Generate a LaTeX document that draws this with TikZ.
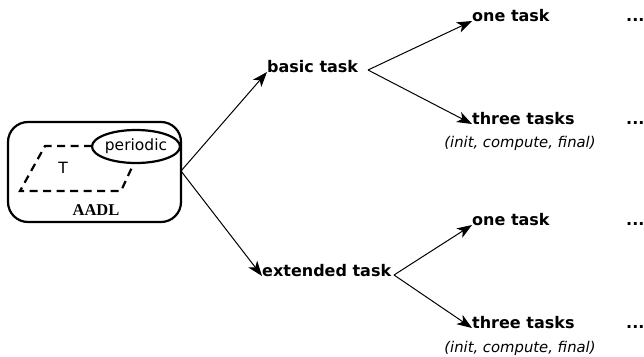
\documentclass[tikz,border=0pt]{standalone}
\usepackage{fontspec}
\setmainfont{DejaVu Sans}
\newfontfamily\serifbold{Liberation Serif}
\usetikzlibrary{arrows.meta,shapes.geometric}
\begin{document}
\begin{tikzpicture}[x=1pt,y=-1pt,
  lbl/.style={font=\fontsize{16}{18}\selectfont\bfseries, anchor=base west, inner sep=0pt},
  note/.style={font=\fontsize{14.8}{17}\selectfont\itshape, inner sep=0pt},
  arr/.style={line width=1pt, -{Stealth[length=15pt,width=11pt,inset=4pt]}},
  thick line/.style={line width=2.2pt}]
\useasboundingbox (0,0) rectangle (644,356);

% AADL component box
\draw[thick line, rounded corners=20pt] (8,122) rectangle (181,222);
\draw[thick line, dash pattern=on 8pt off 5.5pt]
  (92,146) -- (45,146) -- (20,191) -- (121,191) -- (133,165);
\node[draw, ellipse, thick line, minimum width=88pt, minimum height=33pt, inner sep=0pt,
  font=\fontsize{15.5}{18}\selectfont] (per) at (136,146.5) {periodic};
\node[font=\fontsize{15.5}{18}\selectfont] (T) at (63,168) {T};
\node[font=\serifbold\fontsize{16.5}{19}\selectfont\bfseries] (aadl) at (96,210) {AADL};
\coordinate (src) at (181,171);

% first level
\node[lbl] (basic) at (267,72) {basic task};
\node[lbl] (ext) at (262,276) {extended task};
\coordinate (bsplit) at (368,70);
\coordinate (esplit) at (394,275);

% second level
\node[lbl] (one1) at (472,21) {one task};
\node[lbl] (three1) at (472,124) {three tasks};
\node[note] (sub1) at (520,143) {(init, compute, final)};
\node[lbl] (dots1) at (626,21) {...};
\node[lbl] (dots2) at (626,124) {...};

\node[lbl] (one2) at (472,225) {one task};
\node[lbl] (three2) at (472,328) {three tasks};
\node[note] (sub2) at (520,348) {(init, compute, final)};
\node[lbl] (dots3) at (626,225) {...};
\node[lbl] (dots4) at (626,328) {...};

% connectors
\draw[arr] (src) -- (basic.base west);
\draw[arr] (src) -- (ext.base west);
\draw[arr] (bsplit) -- (one1.base west);
\draw[arr] (bsplit) -- (three1.base west);
\draw[arr] (esplit) -- (one2.base west);
\draw[arr] (esplit) -- (three2.base west);
\end{tikzpicture}
\end{document}
